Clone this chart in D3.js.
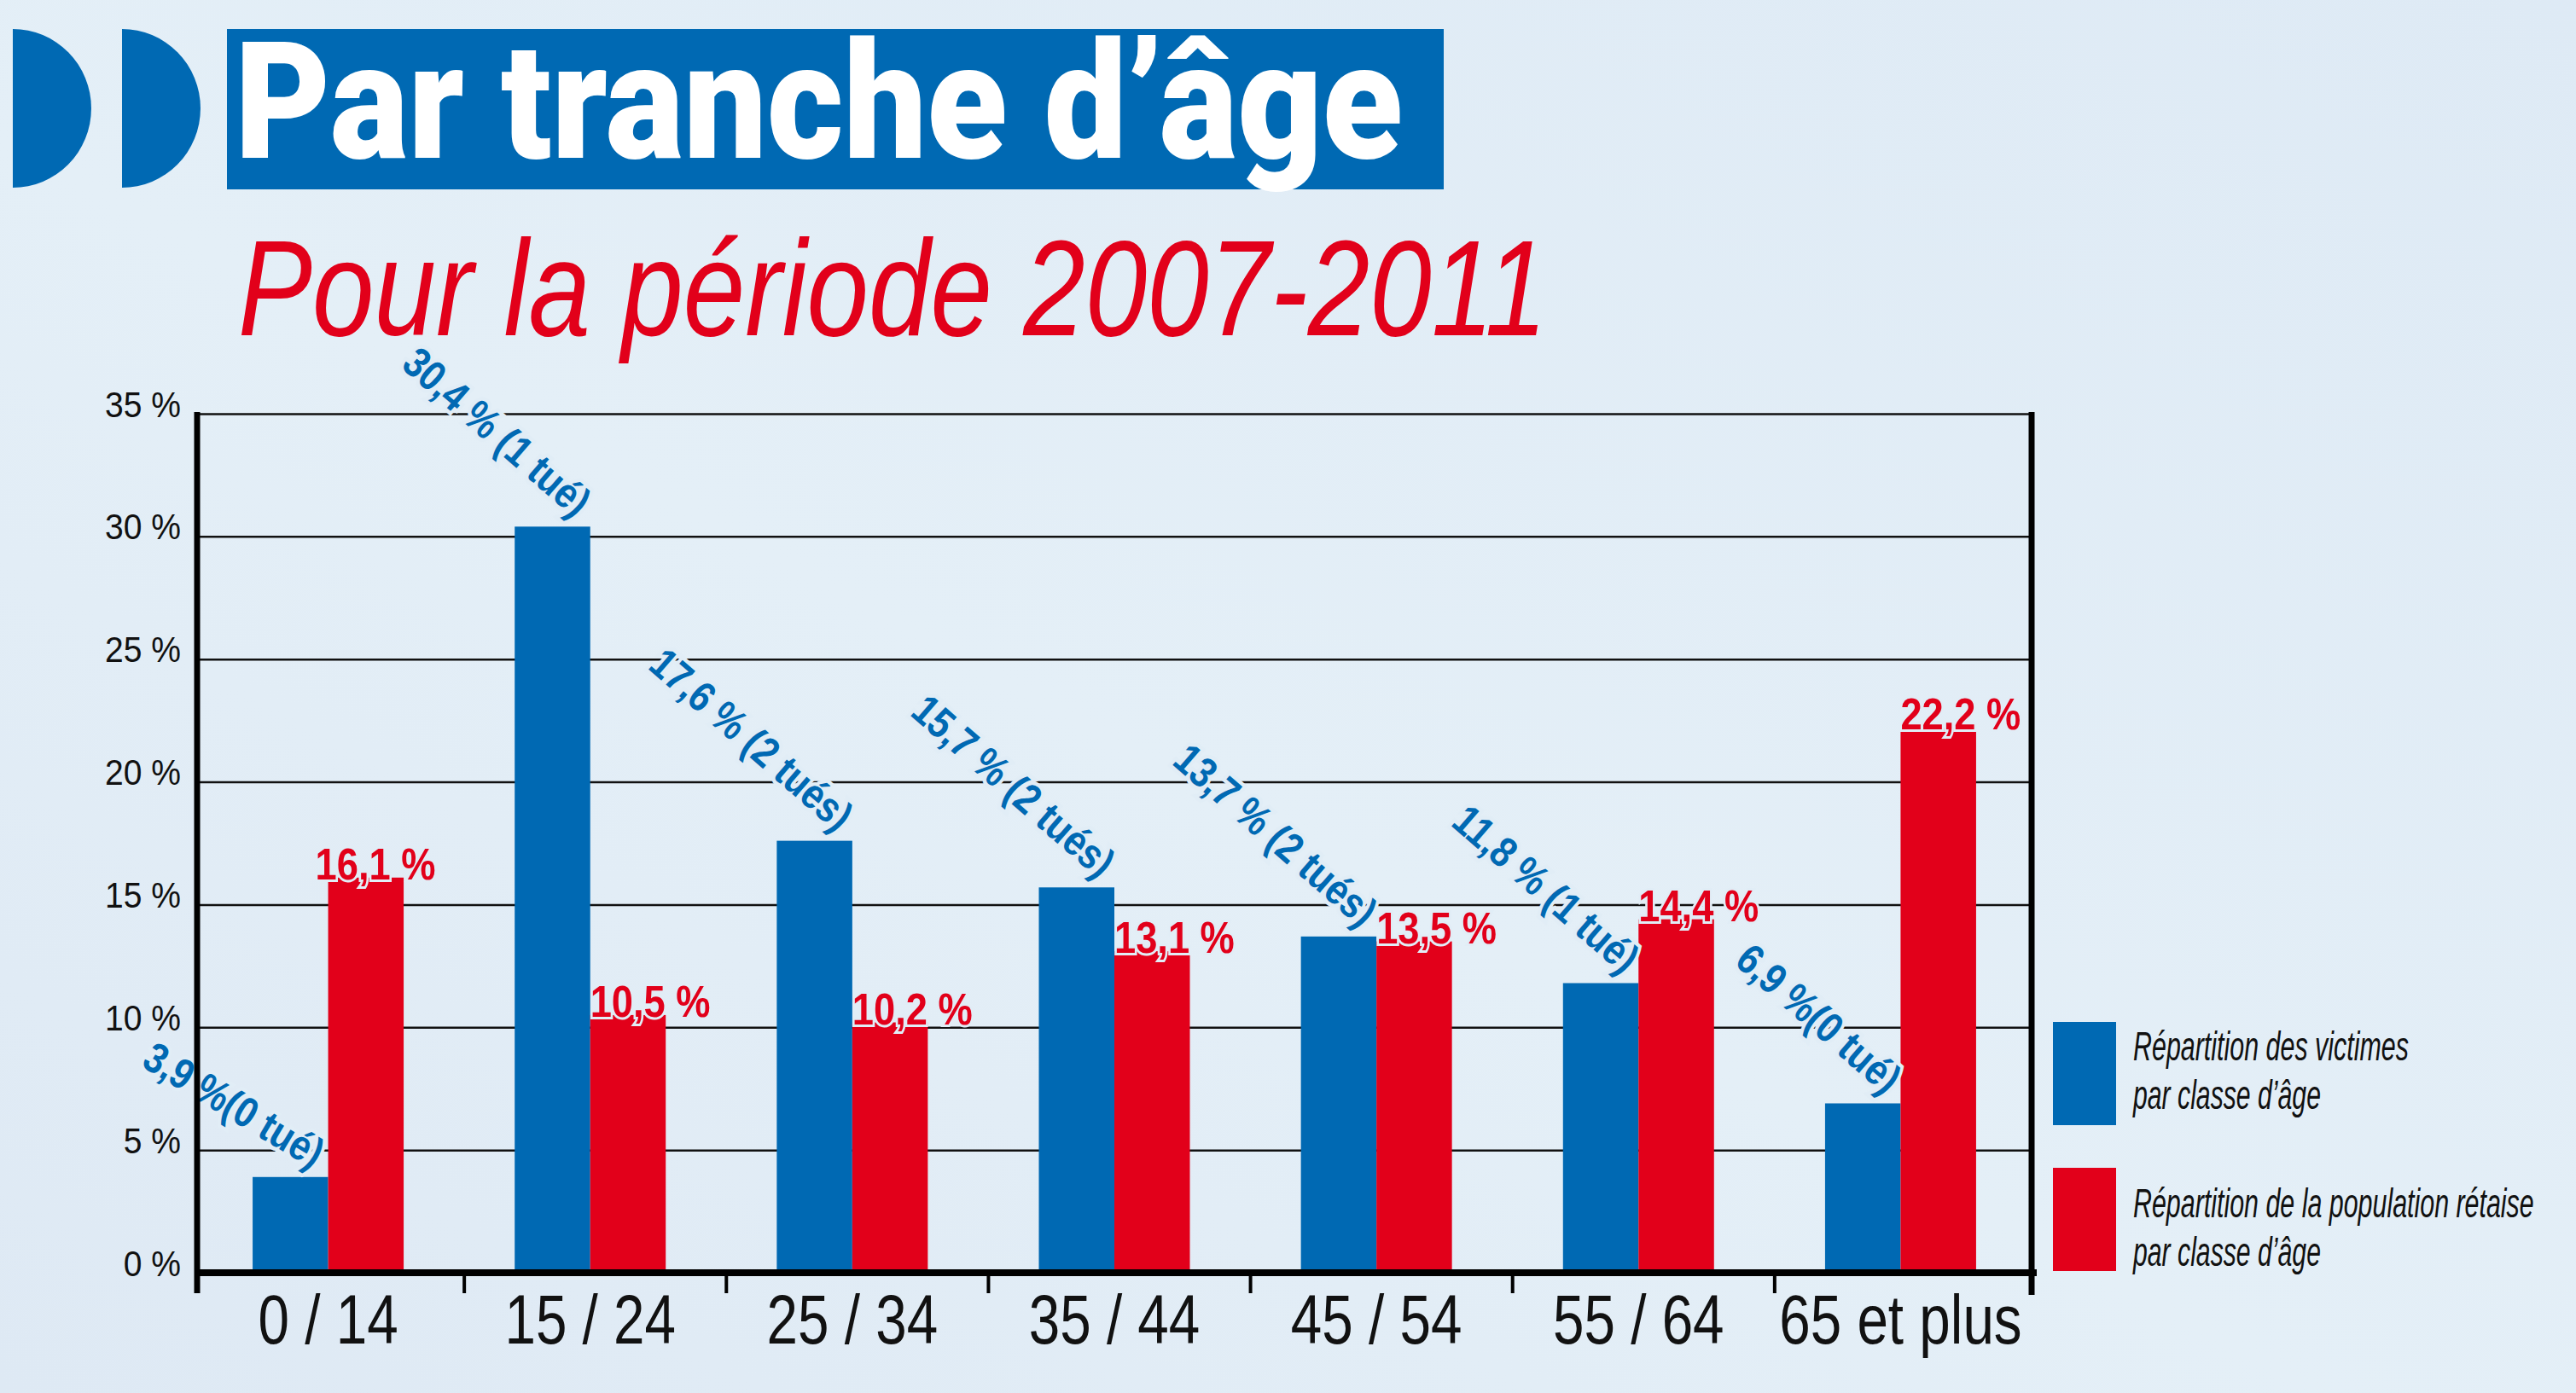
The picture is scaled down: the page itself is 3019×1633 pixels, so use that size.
<!DOCTYPE html>
<html>
<head>
<meta charset="UTF-8">
<title>Par tranche d'âge</title>
<script src="https://d3js.org/d3.v7.min.js"></script>
<style>
  html, body { margin: 0; padding: 0; background: #e1edf6; overflow: hidden; }
  svg { display: block; }
</style>
</head>
<body>
<div id="chart"></div>
<script>
// data
var categories = ["0 / 14", "15 / 24", "25 / 34", "35 / 44", "45 / 54", "55 / 64", "65 et plus"];
var victimes = [3.9, 30.4, 17.6, 15.7, 13.7, 11.8, 6.9];
var tues = [0, 1, 2, 2, 2, 1, 0];
var population = [16.1, 10.5, 10.2, 13.1, 13.5, 14.4, 22.2];
var yTicks = [0, 5, 10, 15, 20, 25, 30, 35];
var legendLabels = [
  ["Répartition des victimes", "par classe d’âge"],
  ["Répartition de la population rétaise", "par classe d’âge"]
];

var W = 3019, H = 1633;
var BLUE = "#0069b3", RED = "#e2001a", BG = "#e1edf6";
var sans = "'Liberation Sans', Arial, sans-serif";

var plotLeft = 231, plotRight = 2381, plotTop = 485, plotBottom = 1492;

// squeeze a text horizontally, to fake a condensed face
function condense(sel, k) {
  sel.each(function() {
    var len = this.getComputedTextLength();
    d3.select(this)
        .attr("textLength", len * k)
        .attr("lengthAdjust", "spacingAndGlyphs");
  });
}

var svg = d3.select("#chart").append("svg")
    .attr("width", W)
    .attr("height", H);

// background with a faint diagonal sheen
var defs = svg.append("defs");
var grad = defs.append("linearGradient")
    .attr("id", "bg")
    .attr("x1", "0").attr("y1", "1").attr("x2", "1").attr("y2", "0");
grad.append("stop").attr("offset", "0").attr("stop-color", "#dee9f4");
grad.append("stop").attr("offset", "0.45").attr("stop-color", "#e4eff7");
grad.append("stop").attr("offset", "1").attr("stop-color", "#deeaf5");
svg.append("rect").attr("width", W).attr("height", H).attr("fill", "url(#bg)");

// header: two D shapes + title box
[15, 143].forEach(function(x) {
  svg.append("path")
      .attr("d", "M" + x + ",34 A92,93 0 0 1 " + x + ",220 Z")
      .attr("fill", BLUE);
});
svg.append("rect")
    .attr("x", 266).attr("y", 34)
    .attr("width", 1426).attr("height", 188)
    .attr("fill", BLUE);
svg.append("text")
    .attr("x", 275).attr("y", 185)
    .attr("textLength", 1369)
    .attr("lengthAdjust", "spacingAndGlyphs")
    .style("font-family", "Roboto, Lato, Inter, sans-serif")
    .style("font-weight", 900)
    .style("font-size", "192px")
    .attr("fill", "white")
    .text("Par tranche d’âge");

svg.append("text")
    .attr("x", 279).attr("y", 393)
    .attr("textLength", 1534)
    .attr("lengthAdjust", "spacingAndGlyphs")
    .style("font-family", sans)
    .style("font-style", "italic")
    .style("font-size", "160px")
    .attr("fill", RED)
    .text("Pour la période 2007-2011");

// scales
var x0 = d3.scaleBand().domain(categories).range([plotLeft, plotRight]);
var barW = 88.5;
var y = d3.scaleLinear().domain([0, 35]).range([plotBottom, plotTop]);

// grid + y labels
var yAxis = svg.append("g")
    .attr("transform", "translate(" + plotLeft + ",0)")
    .call(d3.axisLeft(y)
      .tickValues(yTicks)
      .tickSize(-(plotRight - plotLeft))
      .tickPadding(19)
      .tickFormat(function(d) { return d + " %"; }));
yAxis.select(".domain").remove();
yAxis.selectAll("line").attr("stroke", "#111").attr("stroke-width", 2.5);
yAxis.selectAll("text")
    .attr("dy", "3px")
    .style("font-family", sans)
    .style("font-size", "42px")
    .attr("fill", "#111")
    .call(condense, 0.93);

// bars
var groups = svg.append("g").selectAll("g")
    .data(categories)
    .join("g")
    .attr("transform", function(d) { return "translate(" + (x0(d) + x0.bandwidth() / 2) + ",0)"; });

groups.append("rect")
    .attr("x", -barW)
    .attr("y", function(d, i) { return y(victimes[i]); })
    .attr("width", barW)
    .attr("height", function(d, i) { return plotBottom - y(victimes[i]); })
    .attr("fill", BLUE);

groups.append("rect")
    .attr("x", 0)
    .attr("y", function(d, i) { return y(population[i]); })
    .attr("width", barW)
    .attr("height", function(d, i) { return plotBottom - y(population[i]); })
    .attr("fill", RED);

// axes lines
svg.append("line")
    .attr("x1", plotLeft).attr("x2", plotLeft)
    .attr("y1", plotTop - 2).attr("y2", 1516)
    .attr("stroke", "#000").attr("stroke-width", 7);
svg.append("line")
    .attr("x1", plotRight).attr("x2", plotRight)
    .attr("y1", plotTop - 2).attr("y2", 1518)
    .attr("stroke", "#000").attr("stroke-width", 7);
svg.append("line")
    .attr("x1", plotLeft).attr("x2", plotRight + 6)
    .attr("y1", plotBottom).attr("y2", plotBottom)
    .attr("stroke", "#000").attr("stroke-width", 8);

// tick marks between the groups
svg.append("g").selectAll("line")
    .data(categories.slice(1))
    .join("line")
    .attr("x1", function(d) { return x0(d) + 6; })
    .attr("x2", function(d) { return x0(d) + 6; })
    .attr("y1", plotBottom).attr("y2", plotBottom + 24)
    .attr("stroke", "#000").attr("stroke-width", 4);

// category labels
var xAxis = svg.append("g")
    .attr("transform", "translate(0," + plotBottom + ")")
    .call(d3.axisBottom(x0).tickSize(0).tickPadding(0));
xAxis.select(".domain").remove();
xAxis.selectAll("text")
    .attr("y", 83).attr("dy", 0)
    .style("font-family", sans)
    .style("font-size", "82px")
    .attr("fill", "#111")
    .call(condense, 0.8);

// value labels, blue ones tilted
var comma = function(v) { return d3.format(".1f")(v).replace(".", ","); };

groups.append("text")
    .attr("transform", function(d, i) {
      return "translate(-18," + (y(victimes[i]) - 9) + ") rotate(" + (i === 0 ? 31 : 41) + ")";
    })
    .attr("text-anchor", "end")
    .style("font-family", sans)
    .style("font-weight", "bold")
    .style("font-size", "50px")
    .attr("fill", BLUE)
    .attr("stroke", BG).attr("stroke-width", 9)
    .attr("paint-order", "stroke")
    .text(function(d, i) {
      var t = tues[i];
      return comma(victimes[i]) + " %" + (t === 0 ? "" : " ") + "(" + t + " tué" + (t > 1 ? "s" : "") + ")";
    })
    .call(condense, 0.85);

groups.append("text")
    .attr("x", function(d, i) { return i === 0 ? -15 : 0; })
    .attr("y", function(d, i) { return y(population[i]) + 2; })
    .style("font-family", sans)
    .style("font-weight", "bold")
    .style("font-size", "52px")
    .attr("fill", RED)
    .attr("stroke", BG).attr("stroke-width", 6)
    .attr("paint-order", "stroke")
    .text(function(d, i) { return comma(population[i]) + " %"; })
    .call(condense, 0.87);

// legend (text squeezed with a scale transform so its box stays on the page)
var legendWidths = [[323, 220], [470, 220]];
var legendRectY = [1198, 1369];
var legendTextY = [1243, 1427];
var legend = svg.append("g").selectAll("g")
    .data(legendLabels)
    .join("g");
legend.append("rect")
    .attr("x", 2406)
    .attr("y", function(d, i) { return legendRectY[i]; })
    .attr("width", 74).attr("height", 121)
    .attr("fill", function(d, i) { return i === 0 ? BLUE : RED; });
legend.each(function(lines, i) {
  d3.select(this).selectAll("text")
      .data(lines)
      .join("text")
      .style("font-family", sans)
      .style("font-style", "italic")
      .style("font-size", "48px")
      .attr("fill", "#111")
      .text(function(d) { return d; })
      .each(function(d, j) {
        var k = legendWidths[i][j] / this.getComputedTextLength();
        d3.select(this).attr("transform",
          "translate(2500," + (legendTextY[i] + j * 57) + ") scale(" + k + ",1)");
      });
});
</script>
</body>
</html>
